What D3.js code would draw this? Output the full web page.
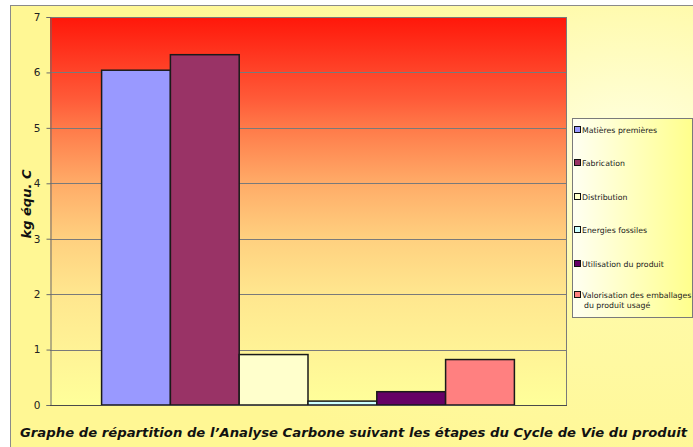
<!DOCTYPE html>
<html>
<head>
<meta charset="utf-8">
<script src="https://cdnjs.cloudflare.com/ajax/libs/d3/7.8.5/d3.min.js"></script>
<style>
  html, body { margin: 0; padding: 0; background: #ffffff; }
  svg { display: block; }
</style>
</head>
<body>
<svg id="chart" width="693" height="447"></svg>
<script>
// Étapes du cycle de vie et émissions associées (kg équ. C)
const stages = [
  "Matières premières",
  "Fabrication",
  "Distribution",
  "Energies fossiles",
  "Utilisation du produit",
  "Valorisation des emballages du produit usagé"
];
const legendLines = [
  ["Matières premières"],
  ["Fabrication"],
  ["Distribution"],
  ["Energies fossiles"],
  ["Utilisation du produit"],
  ["Valorisation des emballages", "du produit usagé"]
];
const values = [6.04, 6.32, 0.91, 0.07, 0.24, 0.82];
const colors = ["#9999ff", "#993366", "#ffffcc", "#ccffff", "#660066", "#ff8080"];
const yTicks = [0, 1, 2, 3, 4, 5, 6, 7];
const yTitle = "kg équ. C";
const chartTitle = "Graphe de répartition de l\u2019Analyse Carbone suivant les étapes du Cycle de Vie du produit";

const svg = d3.select("#chart");
const defs = svg.append("defs");

// Fond général jaune pâle
const bg = defs.append("radialGradient").attr("id", "bgGrad")
  .attr("cx", "0.88").attr("cy", "0.3").attr("r", "0.75");
bg.append("stop").attr("offset", "0%").attr("stop-color", "#ffffe0");
bg.append("stop").attr("offset", "45%").attr("stop-color", "#fffaa8");
bg.append("stop").attr("offset", "100%").attr("stop-color", "#fff794");

// Zone de tracé : dégradé rouge vers jaune
const plotStops = [
  [0, "#ff170a"], [0.21, "#ff5a38"], [0.28, "#ff7848"], [0.43, "#ffac68"],
  [0.57, "#ffd07f"], [0.71, "#ffe68e"], [0.86, "#fff396"], [1, "#ffff9a"]
];
const pg = defs.append("linearGradient").attr("id", "plotGrad")
  .attr("x1", 0).attr("y1", 0).attr("x2", 0).attr("y2", 1);
pg.selectAll("stop").data(plotStops).join("stop")
  .attr("offset", d => d[0]).attr("stop-color", d => d[1]);

// Légende : dégradé blanc vers jaune
const lg = defs.append("linearGradient").attr("id", "legGrad")
  .attr("x1", 0).attr("y1", 0).attr("x2", 1).attr("y2", 0);
lg.append("stop").attr("offset", "0%").attr("stop-color", "#fffff2");
lg.append("stop").attr("offset", "100%").attr("stop-color", "#ffff8c");

// Cadre extérieur
svg.append("rect")
  .attr("x", 10.5).attr("y", 5.5).attr("width", 700).attr("height", 460)
  .attr("fill", "url(#bgGrad)").attr("stroke", "#8a8a8a").attr("stroke-width", 1);

const plot = { left: 50, top: 17, right: 566, bottom: 405 };
const pw = plot.right - plot.left;

const y = d3.scaleLinear().domain([0, 7]).range([plot.bottom, plot.top]);

// Largeur d'intervalle de 150 % : 6 barres + 1,5 barre d'espace
const bw = pw / (stages.length + 1.5);
const x = d3.scaleBand().domain(stages)
  .range([plot.left + 0.75 * bw, plot.right - 0.75 * bw])
  .padding(0);

svg.append("rect")
  .attr("x", plot.left).attr("y", plot.top)
  .attr("width", pw).attr("height", plot.bottom - plot.top)
  .attr("fill", "url(#plotGrad)");

// Quadrillage horizontal
svg.append("g")
  .selectAll("line")
  .data(yTicks.filter(d => d > 0))
  .join("line")
  .attr("x1", plot.left).attr("x2", plot.right)
  .attr("y1", d => Math.round(y(d)) + 0.5).attr("y2", d => Math.round(y(d)) + 0.5)
  .attr("stroke", "#7a7a7a").attr("stroke-width", 1);

// Bord droit de la zone de tracé
svg.append("line")
  .attr("x1", plot.right + 0.5).attr("x2", plot.right + 0.5)
  .attr("y1", plot.top).attr("y2", plot.bottom)
  .attr("stroke", "#7a7a7a").attr("stroke-width", 1);

// Barres
svg.append("g")
  .selectAll("rect")
  .data(stages)
  .join("rect")
  .attr("x", d => x(d))
  .attr("y", (d, i) => y(values[i]))
  .attr("width", x.bandwidth())
  .attr("height", (d, i) => y(0) - y(values[i]))
  .attr("fill", (d, i) => colors[i])
  .attr("stroke", "#1a1a1a").attr("stroke-width", 1.5);

// Axe vertical
const yAxis = d3.axisLeft(y).tickValues(yTicks).tickSize(4).tickPadding(6)
  .tickFormat(d3.format("d"));
const gy = svg.append("g")
  .attr("transform", `translate(${plot.left + 0.5},0)`)
  .call(yAxis);
gy.select(".domain").attr("stroke", "#6a6a6a");
gy.selectAll(".tick line").attr("stroke", "#6a6a6a");
gy.selectAll(".tick text")
  .attr("font-family", "Verdana, 'DejaVu Sans', sans-serif")
  .attr("font-size", 10.5).attr("fill", "#222");

// Axe horizontal
svg.append("line")
  .attr("x1", plot.left).attr("x2", plot.right + 1)
  .attr("y1", plot.bottom + 0.5).attr("y2", plot.bottom + 0.5)
  .attr("stroke", "#4a4a4a").attr("stroke-width", 1.2);

// Titre de l'axe vertical
svg.append("text")
  .attr("transform", "translate(31,204) rotate(-90)")
  .attr("text-anchor", "middle")
  .attr("font-family", "'DejaVu Sans', Verdana, sans-serif")
  .attr("font-size", 13).attr("font-weight", "bold").attr("font-style", "italic")
  .attr("fill", "#111")
  .text(yTitle);

// Titre du graphique
svg.append("text")
  .attr("x", 20).attr("y", 437)
  .attr("font-family", "'DejaVu Sans', Verdana, sans-serif")
  .attr("font-size", 11.5).attr("font-weight", "bold").attr("font-style", "italic")
  .attr("textLength", 667).attr("lengthAdjust", "spacingAndGlyphs")
  .attr("fill", "#111")
  .text(chartTitle);

// Légende
const leg = { x: 572, y: 118, w: 120, h: 199 };
svg.append("rect")
  .attr("x", leg.x + 0.5).attr("y", leg.y + 0.5)
  .attr("width", leg.w).attr("height", leg.h)
  .attr("fill", "url(#legGrad)").attr("stroke", "#7a7a7a").attr("stroke-width", 1);

const itemY = [130, 163, 197, 230, 264, 295];
const items = svg.append("g").selectAll("g")
  .data(stages)
  .join("g")
  .attr("transform", (d, i) => `translate(${leg.x + 2},${itemY[i]})`);
items.append("rect")
  .attr("x", 0.5).attr("y", -3.5).attr("width", 6).attr("height", 6)
  .attr("fill", (d, i) => colors[i])
  .attr("stroke", "#111").attr("stroke-width", 1);
items.append("text")
  .attr("font-family", "'DejaVu Sans', Verdana, sans-serif")
  .attr("font-size", 7.8).attr("fill", "#1a1a1a")
  .selectAll("tspan")
  .data((d, i) => legendLines[i])
  .join("tspan")
  .attr("x", (d, j) => j === 0 ? 8 : 10)
  .attr("y", (d, j) => 3 + j * 10)
  .text(d => d);
</script>
</body>
</html>
